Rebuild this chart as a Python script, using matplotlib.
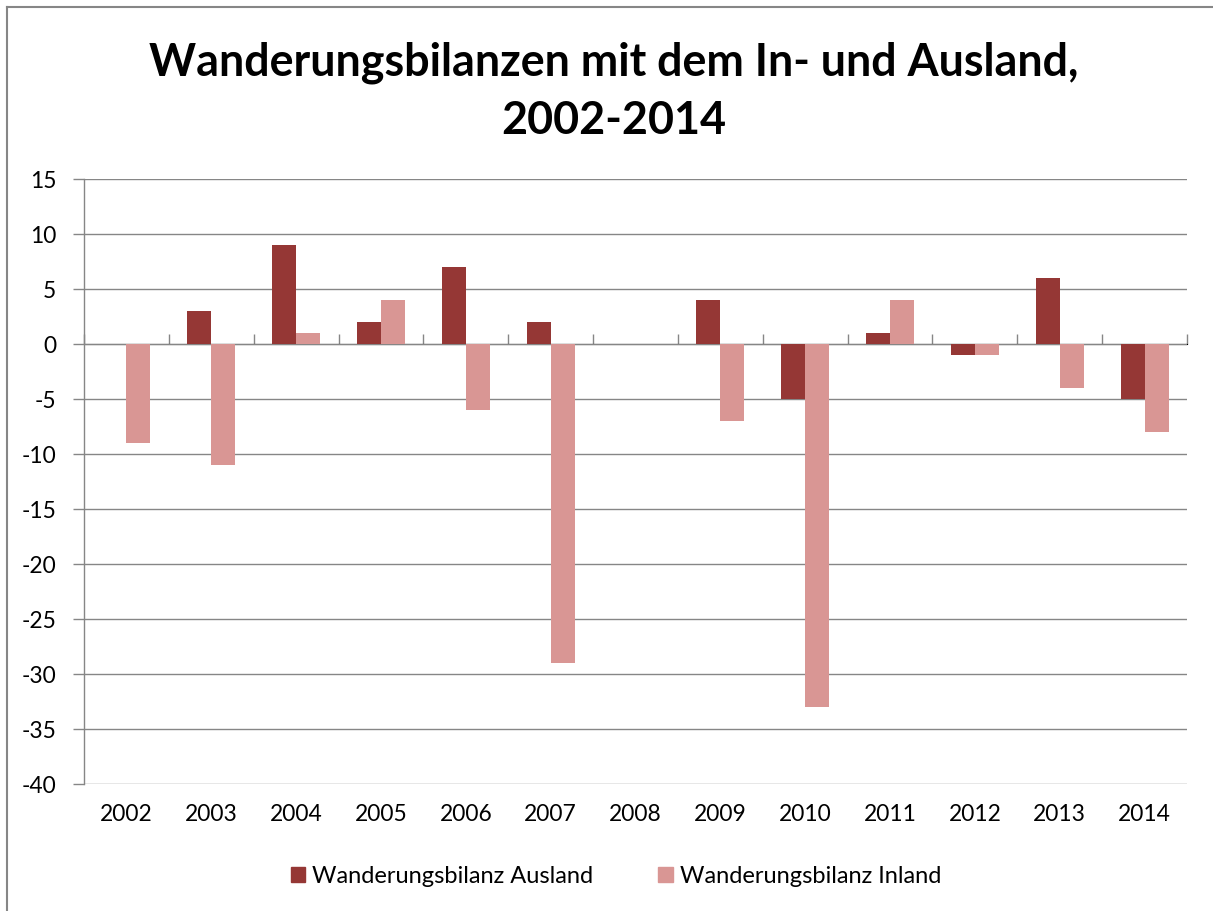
import matplotlib
matplotlib.use("Agg")
import matplotlib.pyplot as plt
import numpy as np
from matplotlib.patches import Patch
from matplotlib.lines import Line2D

years = ["2002", "2003", "2004", "2005", "2006", "2007", "2008",
         "2009", "2010", "2011", "2012", "2013", "2014"]
ausland = [0, 3, 9, 2, 7, 2, 0, 4, -5, 1, -1, 6, -5]
inland = [-9, -11, 1, 4, -6, -29, 0, -7, -33, 4, -1, -4, -8]
series_names = ["Wanderungsbilanz Ausland", "Wanderungsbilanz Inland"]
title_lines = ["Wanderungsbilanzen mit dem In- und Ausland,", "2002-2014"]

c_dark = "#953735"
c_light = "#D99694"
grey = "#868686"
FONT = "Lato"
plt.rcParams["axes.unicode_minus"] = False

W, H = 1213, 912
fig = plt.figure(figsize=(W / 100, H / 100), dpi=100)

def fx(px): return px / W
def fy(py): return 1 - py / H

ax = fig.add_axes([fx(84), fy(785), fx(1187) - fx(84), fy(180) - fy(785)])

x = np.arange(len(years))
bw = 0.283
ax.bar(x - bw / 2, ausland, bw, color=c_dark, zorder=3)
ax.bar(x + bw / 2, inland, bw, color=c_light, zorder=3)

ymin, ymax = -40, 15
ax.set_xlim(-0.5, len(years) - 0.5)
ax.set_ylim(ymin, ymax)
ax.set_yticks(np.arange(-40, 16, 5))
ax.yaxis.grid(True, color=grey, linewidth=1.0, zorder=0)
ax.set_axisbelow(True)
for s in ["top", "right", "bottom"]:
    ax.spines[s].set_visible(False)
ax.spines["left"].set_color(grey)
ax.spines["left"].set_linewidth(1.0)
ax.tick_params(axis="y", length=8, width=1.0, color=grey, pad=12,
               labelsize=16.4)
for lab in ax.get_yticklabels():
    lab.set_fontfamily(FONT)

ax.set_xticks(x)
ax.set_xticklabels(years, fontfamily=FONT, fontsize=16.4)
ax.tick_params(axis="x", length=0, pad=14)

# category axis line at zero with boundary tick marks
zero_frac = (0 - ymin) / (ymax - ymin)
sec = ax.secondary_xaxis(zero_frac)
sec.set_xticks(np.arange(-0.5, len(years), 1.0))
sec.set_xticklabels([])
sec.tick_params(length=7, width=1.0, color=grey, direction="out")
sec.spines["bottom"].set_color(grey)
sec.spines["bottom"].set_linewidth(1.0)

fig.text(fx(614), fy(75), title_lines[0], ha="center", va="baseline",
         fontsize=32.3, fontweight="bold", fontfamily=FONT)
fig.text(fx(614), fy(134), title_lines[1], ha="center", va="baseline",
         fontsize=32.3, fontweight="bold", fontfamily=FONT)

handles = [Patch(color=c_dark), Patch(color=c_light)]
fig.legend(handles, series_names, loc="center", bbox_to_anchor=(fx(616), fy(877)),
           ncol=2, frameon=False, prop={"family": FONT, "size": 17},
           handlelength=0.62, handleheight=0.62, handletextpad=0.3,
           columnspacing=2.75)

fig.add_artist(Line2D([fx(7), fx(7)], [fy(8), 0], color=grey, linewidth=1.5))
fig.add_artist(Line2D([fx(7), 1], [fy(8), fy(8)], color=grey, linewidth=1.5))

fig.savefig("out.png", dpi=100)
